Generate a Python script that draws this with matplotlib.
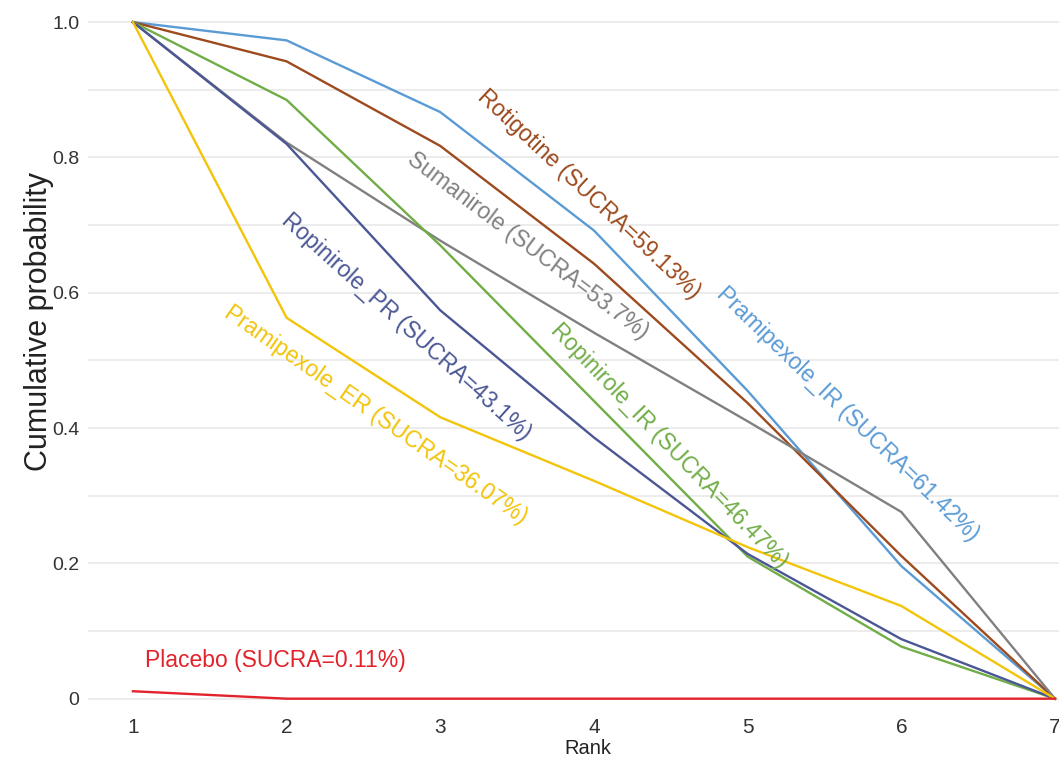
import numpy as np
import matplotlib
matplotlib.use("Agg")
import matplotlib.pyplot as plt

# rangos y probabilidades acumuladas
ranks = [1, 2, 3, 4, 5, 6, 7]

pramipexole_ir = [1.0, 0.973, 0.867, 0.692, 0.455, 0.196, 0.0]
rotigotine = [1.0, 0.942, 0.817, 0.643, 0.437, 0.211, 0.0]
sumanirole = [1.0, 0.822, 0.677, 0.541, 0.410, 0.276, 0.0]
ropinirole_ir = [1.0, 0.885, 0.670, 0.440, 0.210, 0.077, 0.0]
ropinirole_pr = [1.0, 0.820, 0.574, 0.386, 0.214, 0.088, 0.0]
pramipexole_er = [1.0, 0.563, 0.416, 0.322, 0.224, 0.137, 0.0]
placebo = [0.011, 0.0, 0.0, 0.0, 0.0, 0.0, 0.0]

labels = [
    "Pramipexole_IR (SUCRA=61.42%)",
    "Rotigotine (SUCRA=59.13%)",
    "Sumanirole (SUCRA=53.7%)",
    "Ropinirole_IR (SUCRA=46.47%)",
    "Ropinirole_PR (SUCRA=43.1%)",
    "Pramipexole_ER (SUCRA=36.07%)",
    "Placebo (SUCRA=0.11%)",
]

yticks = [0, 0.2, 0.4, 0.6, 0.8, 1.0]
ytick_labels = ["0", "0.2", "0.4", "0.6", "0.8", "1.0"]

series = [pramipexole_ir, rotigotine, sumanirole, ropinirole_ir,
          ropinirole_pr, pramipexole_er, placebo]
colors = ["#5B9BD5", "#9C4A1E", "#808080", "#70AD47", "#4A5794",
          "#F2C40A", "#E3232C"]

# posicion y angulo de cada etiqueta
label_pos = [
    (5.65, 0.42, -44),
    (3.97, 0.745, -43),
    (3.57, 0.67, -37),
    (4.49, 0.374, -46),
    (2.78, 0.549, -42),
    (2.58, 0.419, -35),
]

fuente = ["Liberation Sans", "DejaVu Sans"]

fig = plt.figure(figsize=(10.59, 7.65), dpi=100)
ax = fig.add_axes([0.083, 0.069, 0.917, 0.918])

for vals, col in zip(series, colors):
    ax.plot(ranks, vals, color=col, linewidth=1.7, zorder=3)

for (x, y, ang), txt, col in zip(label_pos, labels[:6], colors[:6]):
    ax.text(x, y, txt, color=col, rotation=ang, rotation_mode="anchor",
            ha="center", va="center", fontsize=16.5, family=fuente, zorder=4)

ax.text(1.078, 0.056, labels[6], color=colors[6], ha="left", va="center",
        fontsize=16.5, family=fuente, zorder=4)

ax.set_xlim(0.707, 7.026)
ax.set_ylim(-0.02, 1.018)
ax.set_xticks(ranks)
ax.set_xticklabels([str(r) for r in ranks], family=fuente, fontsize=15, color="#333333")
ax.set_yticks(yticks)
ax.set_yticklabels(ytick_labels, family=fuente, fontsize=14, color="#333333")
ax.set_yticks(np.arange(0, 1.01, 0.1), minor=True)
ax.tick_params(axis="both", which="both", length=0)
ax.tick_params(axis="x", pad=4)
ax.tick_params(axis="y", pad=6)
ax.grid(True, which="both", axis="y", color="#EBEBEB", linewidth=1.3, zorder=0)
for s in ax.spines.values():
    s.set_visible(False)

ax.set_xlabel("Rank", family=fuente, fontsize=14.5, color="#222222")
ax.xaxis.set_label_coords(0.515, -0.038)
ax.set_ylabel("Cumulative probability", family=fuente, fontsize=22,
              color="#222222")
ax.yaxis.set_label_coords(-0.035, 0.556)

fig.savefig("out.png", dpi=100)
